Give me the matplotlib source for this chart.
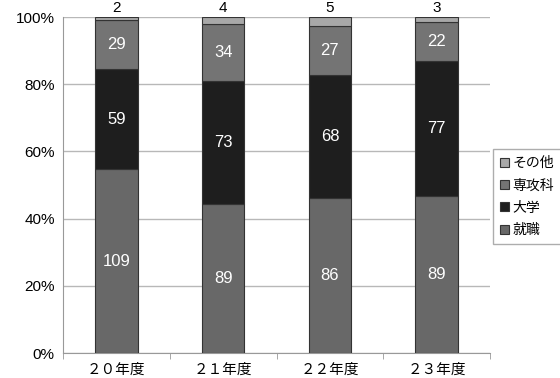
import matplotlib
matplotlib.use("Agg")
import matplotlib.pyplot as plt
import numpy as np

plt.rcParams['font.family'] = ['Liberation Sans', 'Noto Sans CJK JP']

years = ["２０年度", "２１年度", "２２年度", "２３年度"]
shushoku = [109, 89, 86, 89]   # 就職
daigaku = [59, 73, 68, 77]     # 大学
senkouka = [29, 34, 27, 22]    # 専攻科
sonota = [2, 4, 5, 3]          # その他

series = [
    ("就職", shushoku, "#686868"),
    ("大学", daigaku, "#1e1e1e"),
    ("専攻科", senkouka, "#747474"),
    ("その他", sonota, "#a8a8a8"),
]

totals = np.array(shushoku) + np.array(daigaku) + np.array(senkouka) + np.array(sonota)
x = np.arange(len(years))

fig = plt.figure(figsize=(5.6, 3.78), dpi=100)
ax = fig.add_axes([0.1125, 0.066, 0.7625, 0.889])

bottom = np.zeros(len(years))
handles = []
for name, vals, col in series:
    frac = np.array(vals) / totals
    h = ax.bar(x, frac, 0.4, bottom=bottom, color=col, edgecolor="#333333",
               linewidth=0.8, label=name, zorder=3)
    handles.append(h)
    for xi, f, b, v in zip(x, frac, bottom, vals):
        if name == "その他":
            # その他 の値は棒の上に表示
            ax.text(xi, 1.005, str(v), ha="center", va="bottom", fontsize=11,
                    color="black")
        else:
            ax.text(xi, b + f / 2, str(v), ha="center", va="center", fontsize=12,
                    color="white")
    bottom = bottom + frac

ax.set_xlim(-0.5, len(years) - 0.5)
ax.set_ylim(0, 1)
ax.set_yticks(np.arange(0, 1.01, 0.2))
ax.set_yticklabels([f"{int(round(v * 100))}%" for v in np.arange(0, 1.01, 0.2)])
ax.set_xticks(x)
ax.set_xticklabels(years, family=["Noto Sans CJK JP"])
ax.set_xticks(np.arange(-0.5, len(years), 1), minor=True)
ax.tick_params(axis="x", which="major", length=0, labelsize=10.5, pad=7)
ax.tick_params(axis="x", which="minor", length=4, direction="out", color="#999999")
ax.tick_params(axis="y", length=0, labelsize=11, pad=6)
ax.yaxis.grid(True, color="#b8b8b8", linewidth=1, zorder=0)
for s in ["top", "right"]:
    ax.spines[s].set_visible(False)
for s in ["left", "bottom"]:
    ax.spines[s].set_color("#999999")

leg = fig.legend(handles[::-1], [s[0] for s in series][::-1],
                 loc="center left", bbox_to_anchor=(0.876, 0.48),
                 prop={"family": ["Noto Sans CJK JP"], "size": 10},
                 frameon=True, fancybox=False, edgecolor="#999999",
                 handlelength=0.6, handleheight=0.6, handletextpad=0.25,
                 labelspacing=0.6, borderpad=0.5, borderaxespad=0.2)

fig.savefig("out.png", dpi=100)
